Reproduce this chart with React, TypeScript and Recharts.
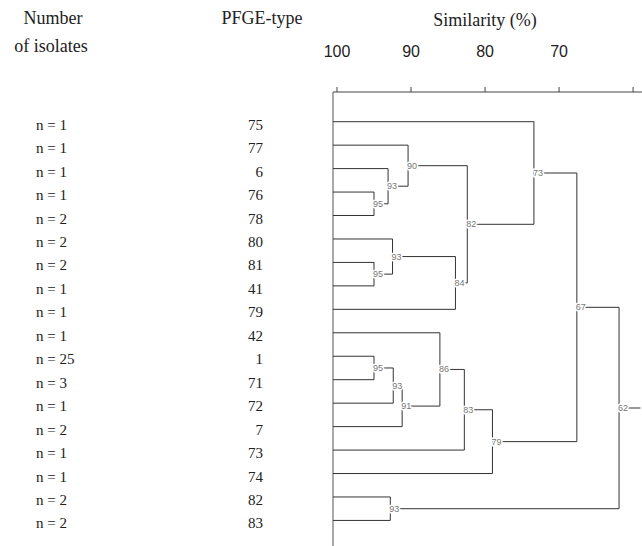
import React from 'react';
import { ComposedChart, Scatter, XAxis, YAxis } from 'recharts';

const isolateCounts = ['n = 1', 'n = 1', 'n = 1', 'n = 1', 'n = 2', 'n = 2', 'n = 2', 'n = 1', 'n = 1', 'n = 1', 'n = 25', 'n = 3', 'n = 1', 'n = 2', 'n = 1', 'n = 1', 'n = 2', 'n = 2'];
const pfgeTypes = ['75', '77', '6', '76', '78', '80', '81', '41', '79', '42', '1', '71', '72', '7', '73', '74', '82', '83'];
const similarityTicks = [100, 90, 80, 70, 60];
const nodeLeftChild = ['r3', 'r2', 'r1', 'r6', 'r5', 'n4', 'n2', 'r0', 'r10', 'n8', 'n9', 'r9', 'n11', 'n12', 'n7', 'r16', 'n14'];
const nodeRightChild = ['r4', 'n0', 'n1', 'r7', 'n3', 'r8', 'n5', 'n6', 'r11', 'r12', 'r13', 'n10', 'r14', 'r15', 'n13', 'r17', 'n15'];
const nodeSimilarity = [95.0, 93.1, 90.4, 95.0, 92.5, 84.0, 82.4, 73.4, 95.0, 92.4, 91.2, 86.1, 82.8, 79.0, 67.6, 92.8, 61.9];
const nodeLabels = ['95', '93', '90', '95', '93', '84', '82', '73', '95', '93', '91', '86', '83', '79', '67', '93', '62'];

const X_MIN = 58.8;
const X_MAX = 100.54;
const rowIndex = pfgeTypes.map((_, i) => i);

type Pt = { x: number; y: number };
const nodeMid: number[] = [];
const resolve = (ref: string): Pt => {
  const k = parseInt(ref.slice(1), 10);
  if (ref[0] === 'r') return { x: X_MAX, y: k };
  return { x: nodeSimilarity[k], y: nodeMid[k] };
};
const elbows: Pt[][] = [];
nodeSimilarity.forEach((s, k) => {
  const a = resolve(nodeLeftChild[k]);
  const b = resolve(nodeRightChild[k]);
  nodeMid[k] = (a.y + b.y) / 2;
  elbows.push([
    { x: a.x, y: a.y },
    { x: s, y: a.y },
    { x: s, y: b.y },
    { x: b.x, y: b.y },
  ]);
});
const rootIdx = nodeSimilarity.length - 1;
elbows.push([
  { x: nodeSimilarity[rootIdx], y: nodeMid[rootIdx] },
  { x: X_MIN + 0.2, y: nodeMid[rootIdx] },
]);
const labelPoints = nodeSimilarity.map((s, k) => ({ x: s, y: nodeMid[k], label: nodeLabels[k] }));

const RowTick = (props: any) => {
  const { y, payload } = props;
  const i = payload.value as number;
  return (
    <g>
      <text x={36} y={y + 8} fontFamily="'Liberation Serif', serif" fontSize={15} fill="#222" textAnchor="start">
        {isolateCounts[i]}
      </text>
      <text x={263} y={y + 8} fontFamily="'Liberation Serif', serif" fontSize={15} fill="#222" textAnchor="end">
        {pfgeTypes[i]}
      </text>
    </g>
  );
};

const SimTick = (props: any) => {
  const { x, payload } = props;
  if (payload.value === 60) return <g />;
  return (
    <text x={x} y={57} fontFamily="'Liberation Sans', Arial, sans-serif" fontSize={16} fill="#222" textAnchor="middle">
      {payload.value}
    </text>
  );
};

const NodeLabel = (props: any) => {
  const { cx, cy, payload } = props;
  return (
    <text
      x={cx - 1}
      y={cy}
      dominantBaseline="central"
      fontFamily="'Liberation Sans', Arial, sans-serif"
      fontSize={9}
      fill="#777"
      stroke="#fff"
      strokeWidth={3}
      paintOrder="stroke"
      textAnchor="start"
    >
      {payload.label}
    </text>
  );
};

const headerStyle: React.CSSProperties = {
  position: 'absolute',
  fontFamily: "'Liberation Serif', serif",
  fontSize: 18,
  color: '#222',
  lineHeight: '20px',
  textAlign: 'center',
  whiteSpace: 'nowrap',
};

export default function App() {
  return (
    <div style={{ position: 'absolute', left: 0, top: 0, width: 642, height: 546, background: '#fff' }}>
      <ComposedChart width={642} height={546} margin={{ top: 0, right: 0, bottom: 0, left: 0 }}>
        <XAxis
          xAxisId={0}
          type="number"
          dataKey="x"
          orientation="top"
          domain={[X_MIN, X_MAX]}
          reversed
          allowDataOverflow
          ticks={similarityTicks}
          interval={0}
          height={92}
          tickSize={5}
          axisLine={{ stroke: '#444' }}
          tickLine={{ stroke: '#444' }}
          tick={<SimTick />}
        />
        <YAxis
          yAxisId={0}
          type="number"
          dataKey="y"
          domain={[-1.266, 18.09]}
          reversed
          allowDataOverflow
          ticks={rowIndex}
          interval={0}
          width={333}
          tickLine={false}
          axisLine={{ stroke: '#555' }}
          tick={<RowTick />}
        />
        {elbows.map((pts, i) => (
          <Scatter
            key={'e' + i}
            data={pts}
            line={{ stroke: '#333', strokeWidth: 1 }}
            lineJointType="linear"
            shape={() => <g />}
            isAnimationActive={false}
          />
        ))}
        <Scatter data={labelPoints} shape={<NodeLabel />} isAnimationActive={false} />
      </ComposedChart>
      <div style={{ ...headerStyle, left: -7, top: 8, width: 120 }}>Number</div>
      <div style={{ ...headerStyle, left: -9, top: 36, width: 120 }}>of isolates</div>
      <div style={{ ...headerStyle, left: 200, top: 8, width: 124 }}>PFGE-type</div>
      <div style={{ ...headerStyle, left: 410, top: 10, width: 150 }}>Similarity (%)</div>
    </div>
  );
}
